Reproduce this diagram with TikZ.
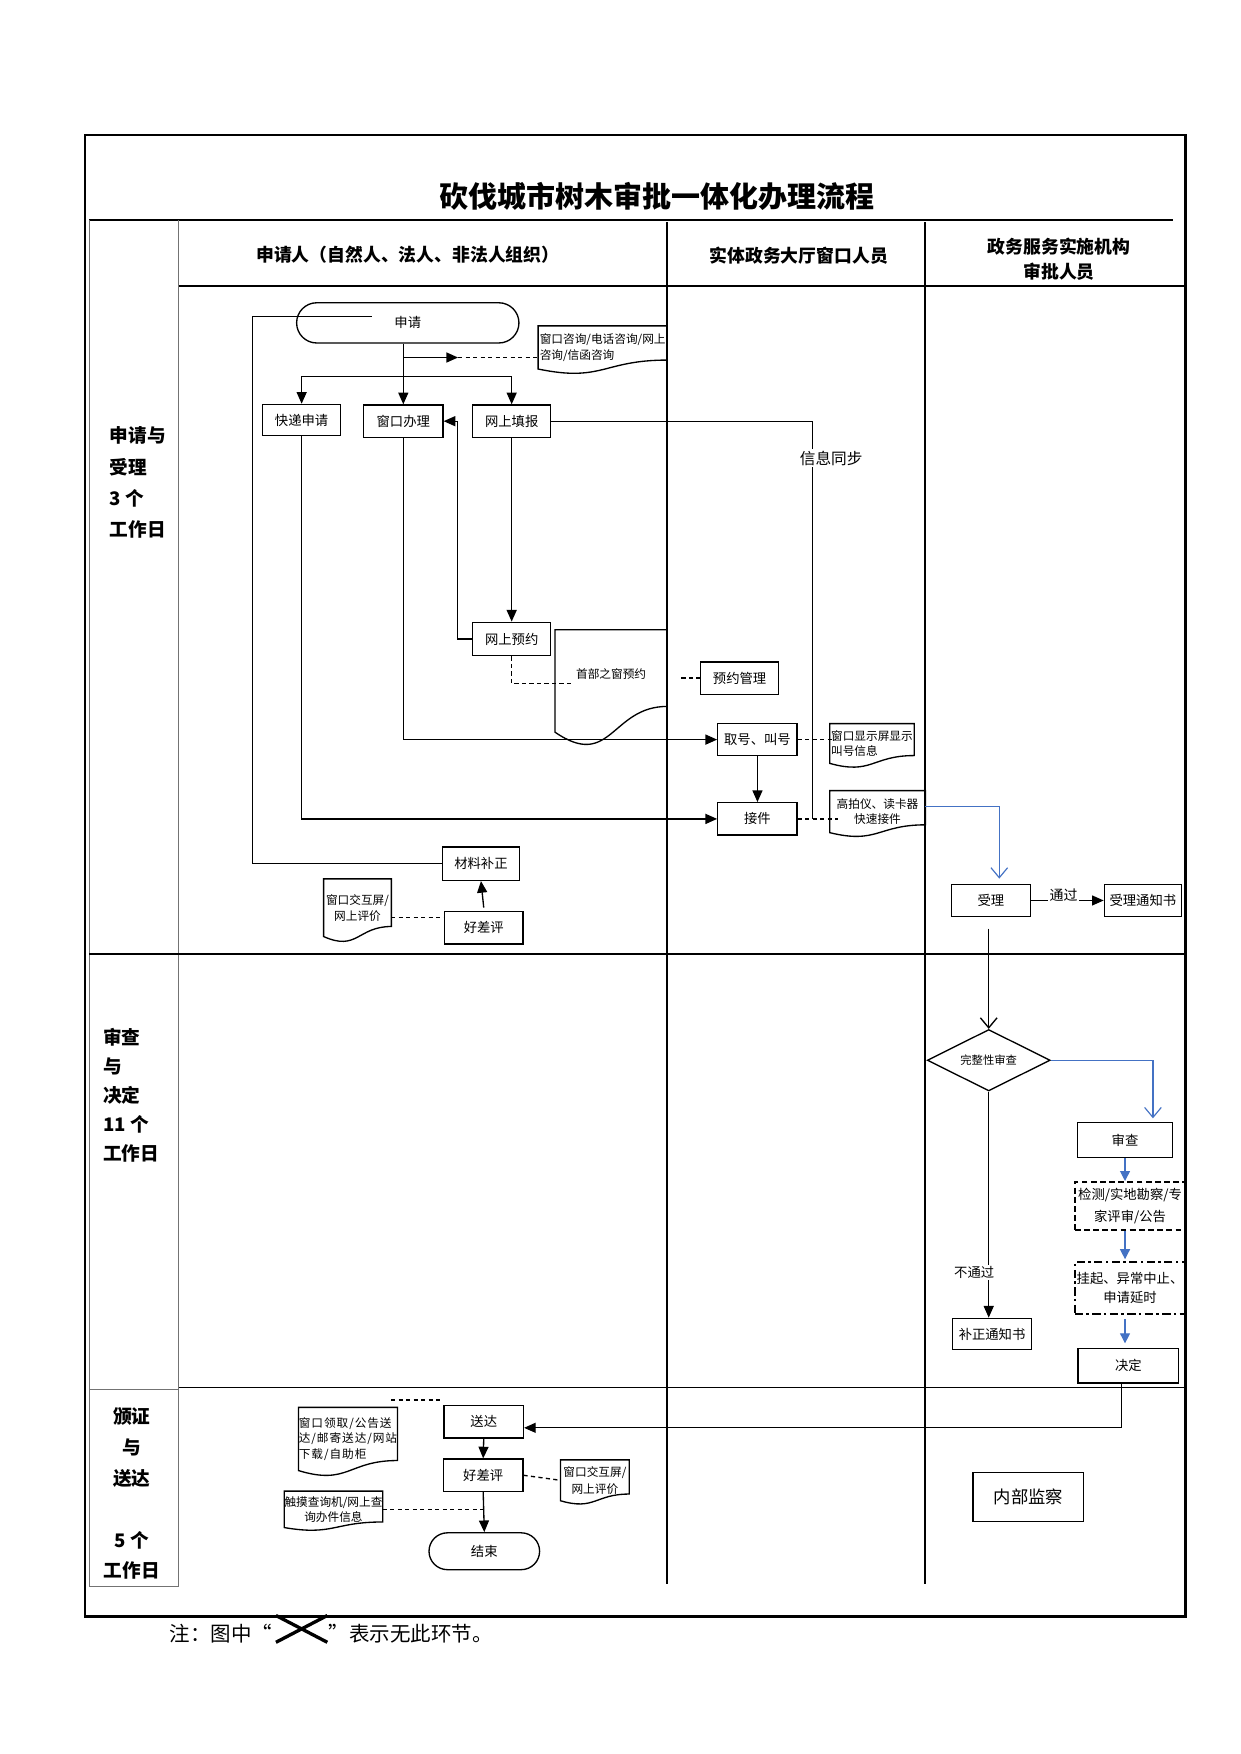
\documentclass[tikz,border=0pt]{standalone}
\usepackage{fontspec}
\setmainfont{Noto Sans CJK SC}
\usetikzlibrary{arrows.meta,calc,shapes.geometric,shapes.misc}
\definecolor{lineblue}{RGB}{68,114,196}
\tikzset{
  sz/.style 2 args={minimum width=#1*0.6704pt, minimum height=#2*0.6704pt},
  box/.style={draw, line width=0.8pt, inner sep=0pt, font=\fontsize{8}{10}\selectfont},
  term/.style={box, rounded rectangle},
  dia/.style={box, diamond, aspect=2, font=\fontsize{6.8}{8}\selectfont},
  dbox/.style={box, line width=1.2pt, dash pattern=on 3.5pt off 2pt, align=center, font=\fontsize{8}{12.7}\selectfont},
  ddbox/.style={box, line width=1.2pt, dash pattern=on 5pt off 2pt on 1.5pt off 2pt, align=center, font=\fontsize{8}{11.4}\selectfont},
  doc/.style={inner sep=0pt, align=left, font=\fontsize{7}{9.4}\selectfont},
  docline/.style={line width=0.8pt},
  hdr/.style={font=\bfseries\fontsize{10.7}{15.4}\selectfont, align=center},
  lbl/.style={font=\bfseries\fontsize{11.2}{18.8}\selectfont, align=left},
  lab/.style={fill=white, inner sep=1pt},
  conn/.style={line width=0.8pt},
  arr/.style={conn, -{Triangle[length=7pt,width=6pt]}},
  barbarr/.style={conn, -{Straight Barb[length=6pt,width=10pt]}},
  bluebarb/.style={line width=0.7pt, color=lineblue, -{Straight Barb[length=6pt,width=10pt]}},
  bluearr/.style={line width=0.7pt, color=lineblue, -{Triangle[length=6pt,width=6pt]}},
  dline/.style={conn, dash pattern=on 2.5pt off 2pt},
  lane/.style={line width=0.8pt},
  thinlane/.style={line width=0.5pt, black!55},
  foot/.style={font=\fontsize{12.3}{14}\selectfont, inner sep=0pt}
}
\newcommand{\docwave}[2]{%
  \draw[docline] (#1.north west) -- (#1.north east) -- ($(#1.south east)+(0,-#2)$)
   .. controls ($(#1.south west)!0.5!(#1.south east)+(0,-#2)$) and ($(#1.south west)!0.5!(#1.south east)+(0,1.5*#2)$)
   .. (#1.south west) -- cycle;}
\begin{document}
\begin{tikzpicture}[x=0.6704pt,y=-0.6704pt]
\useasboundingbox (0,0) rectangle (1110,1570);
% frame and lanes
\draw[line width=1.5pt] (76,121) rectangle (1061,1447);
\draw[lane] (80,197) -- (1050,197);
\draw[thinlane] (80,197) -- (80,1420) -- (160,1420);
\draw[thinlane] (160,197) -- (160,1420);
\draw[lane] (160,256) -- (1061,256);
\draw[lane] (597,199) -- (597,1418);
\draw[lane] (828,199) -- (828,1418);
\draw[lane] (80,854) -- (1061,854);
\draw[lane] (160,1242) -- (1061,1242);
\draw[thinlane] (80,1244) -- (160,1244);

% title and headers
\node[font=\bfseries\fontsize{17.4}{20}\selectfont] (title) at (588,176) {砍伐城市树木审批一体化办理流程};
\node[hdr] (h1) at (365,228) {申请人（自然人、法人、非法人组织）};
\node[hdr] (h2) at (715,229) {实体政务大厅窗口人员};
\node[hdr] (h3) at (948,232) {政务服务实施机构\\审批人员};

% phase labels
\node[lbl, anchor=west] (p1) at (93,432) {申请与\\受理\\3 个\\工作日};
\node[lbl, anchor=west, font=\bfseries\fontsize{11.2}{17.4}\selectfont] (p2) at (87,980) {审查\\与\\决定\\11 个\\工作日};
\node[lbl, align=center, font=\bfseries\fontsize{11.2}{18.5}\selectfont] (p3) at (118,1337) {颁证\\与\\送达\\~\\5 个\\工作日};

% nodes: phase 1
\node[term, sz={199}{36}] (shenqing) at (365,289) {申请};
\node[doc, sz={115}{38}] (zixun) at (539.5,311) {窗口咨询/电话咨询/网上\\咨询/信函咨询};
\node[box, sz={70}{28}] (kuaidi) at (270,376) {快递申请};
\node[box, sz={71}{29}] (chuangkou) at (361,377) {窗口办理};
\node[box, sz={70}{29}] (wangshang) at (458,377) {网上填报};
\node[box, sz={70}{30}] (yuyue) at (458,572) {网上预约};
\node[doc, align=center, sz={100}{91}] (shoubu) at (547,609.5) {\raisebox{4pt}[\height][\depth]{首部之窗预约}};
\node[box, sz={70}{29}] (yuyueguanli) at (662,607) {预约管理};
\node[box, sz={71}{29}] (quhao) at (678,662) {取号、叫号};
\node[box, sz={71}{29}] (jiejian) at (678,733) {接件};
\node[doc, sz={75}{35}, font=\fontsize{7}{8.7}\selectfont] (xianshi) at (780.5,665.5) {窗口显示屏显示\\叫号信息};
\node[doc, align=center, sz={85}{37}, font=\fontsize{7}{8.7}\selectfont] (gaopai) at (785.5,726.5) {高拍仪、读卡器\\快速接件};
\node[box, sz={71}{29}] (shouli) at (887,806) {受理};
\node[box, sz={69}{29}] (tongzhi) at (1023,806) {受理通知书};
\node[box, sz={69}{30}] (cailiao) at (430.5,773) {材料补正};
\node[box, sz={70}{29}] (haocha1) at (433,830.5) {好差评};
\node[doc, align=center, sz={60}{51}] (pingjia1) at (320,812.5) {窗口交互屏/\\网上评价};

% phase 2
\node[dia, sz={110}{55}] (wanzheng) at (885,949) {完整性审查};
\node[box, sz={85}{31}] (shencha) at (1007,1020.5) {审查};
\node[dbox, sz={99}{43}] (jiance) at (1011.5,1079.5) {检测/实地勘察/专\\家评审/公告};
\node[ddbox, sz={99}{46}] (guaqi) at (1011.5,1153) {挂起、异常中止、\\申请延时};
\node[box, sz={90}{31}] (jueding) at (1010,1222.5) {决定};
\node[box, sz={71}{28}] (buzheng) at (888,1194) {补正通知书};

% phase 3
\node[box, sz={71}{29}] (songda) at (433,1272.5) {送达};
\node[box, sz={71}{29}] (haocha2) at (432.5,1320.5) {好差评};
\node[term, sz={99}{33}] (jieshu) at (433.5,1388.5) {结束};
\node[box, sz={99}{44}, font=\fontsize{10.4}{12}\selectfont] (neibu) at (920.5,1340) {内部监察};
\node[doc, sz={87}{56}, font=\fontsize{7}{9.4}\selectfont\addfontfeature{LetterSpace=8}] (lingqu) at (311.5,1288) {窗口领取/公告送\\达/邮寄送达/网站\\下载/自助柜};
\node[doc, align=center, sz={87}{32}, font=\fontsize{7}{8.7}\selectfont] (chaxun) at (298.5,1351) {触摸查询机/网上查\\询办件信息};
\node[doc, align=center, sz={61}{36}, font=\fontsize{7}{10}\selectfont] (pingjia2) at (532.5,1325) {窗口交互屏/\\网上评价};

% document outlines
\docwave{zixun}{8}
\docwave{shoubu}{23}
\docwave{xianshi}{7}
\docwave{gaopai}{7}
\docwave{pingjia1}{9}
\docwave{lingqu}{9}
\docwave{chaxun}{5}
\docwave{pingjia2}{6}

% coordinates
\coordinate (ztip) at (410,320);
\coordinate (br) at (361,337);
\coordinate (synce) at (727,733);
\coordinate (ydend) at (513,612);
\coordinate (ygs) at (610,607);
\coordinate (bend) at (1032,1001);
\coordinate (retc) at (226,283);
\coordinate (retend) at (333,283);
\coordinate (pj) at (350,821);
\coordinate (lq1) at (350,1253);
\coordinate (lq2) at (395,1253);

% connectors phase 1
\draw[arr] (shenqing.south -| chuangkou.north) -- (chuangkou.north);
\draw[conn] (br -| kuaidi.north) -- (br -| wangshang.north);
\draw[arr] (br) -| (kuaidi.north);
\draw[arr] (br) -| (wangshang.north);
\draw[arr] (chuangkou.north |- ztip) -- (ztip);
\draw[dline] (ztip) -- (zixun.west |- ztip);
\draw[arr] (wangshang.south) -- (yuyue.north);
\draw[arr] (yuyue.west) -- ++(-13,0) |- (chuangkou.east);
\draw[conn] (wangshang.east) -| (synce);
\node[lab, font=\fontsize{9.4}{11}\selectfont] (sync) at (744,410) {信息同步};
\draw[dline] (yuyue.south) |- (ydend);
\draw[dline] (ygs) -- (yuyueguanli.west);
\draw[arr] (chuangkou.south) |- (quhao.west);
\draw[arr] (kuaidi.south) |- (jiejian.west);
\draw[arr] (quhao.south) -- (jiejian.north);
\draw[dline] (quhao.east) -- ($(quhao.east -| xianshi.west)+(5,0)$);
\draw[dline] (jiejian.east) -- ($(jiejian.east -| gaopai.west)+(7,0)$);
\draw[bluebarb] ([yshift=3pt]gaopai.east) -| ([xshift=5pt,yshift=3pt]shouli.north);
\draw[arr] (shouli.east) -- (tongzhi.west);
\node[lab, font=\fontsize{8.4}{10}\selectfont] (tg) at (952,801) {通过};
\draw[conn] (cailiao.west) -| (retc) -- (retend);
\draw[arr] ([yshift=2pt]haocha1.north) -- (cailiao.south);
\draw[dline] (pj) -- (pj -| haocha1.west);

% connectors phase 2
\draw[barbarr] ($(wanzheng.north |- shouli.south)+(0,10)$) -- (wanzheng.north);
\draw[bluebarb] (wanzheng.east) -| (bend);
\draw[bluearr] (shencha.south) -- (shencha.south |- jiance.north);
\draw[bluearr] (jiance.south -| shencha.south) -- ($(guaqi.north -| shencha.south)+(0,-2)$);
\draw[bluearr] ($(guaqi.south -| shencha.south)+(0,4)$) -- ($(jueding.north -| shencha.south)+(0,-4)$);
\draw[arr] (wanzheng.south) -- (wanzheng.south |- buzheng.north);
\node[lab, font=\fontsize{8}{10}\selectfont] (btg) at (872,1139) {不通过};

% connectors phase 3
\draw[arr] ([xshift=-4pt]jueding.south) |- ([yshift=-3.7pt]songda.east);
\draw[arr] (songda.south) -- (haocha2.north);
\draw[arr] (haocha2.south) -- (jieshu.north);
\draw[dline] (haocha2.east) -- (pingjia2.west);
\draw[dline] (chaxun.east) -- (chaxun.east -| haocha2.south);
\draw[dline] (lq1) -- (lq2);

% footer
\node[foot, anchor=east] (f1) at (244,1462) {注：图中“};
\node[foot, anchor=west] (f2) at (294,1462) {”表示无此环节。};
\draw[line width=2pt] (247,1446) -- (293,1470);
\draw[line width=2pt] (247,1470) -- (293,1446);
\end{tikzpicture}
\end{document}
